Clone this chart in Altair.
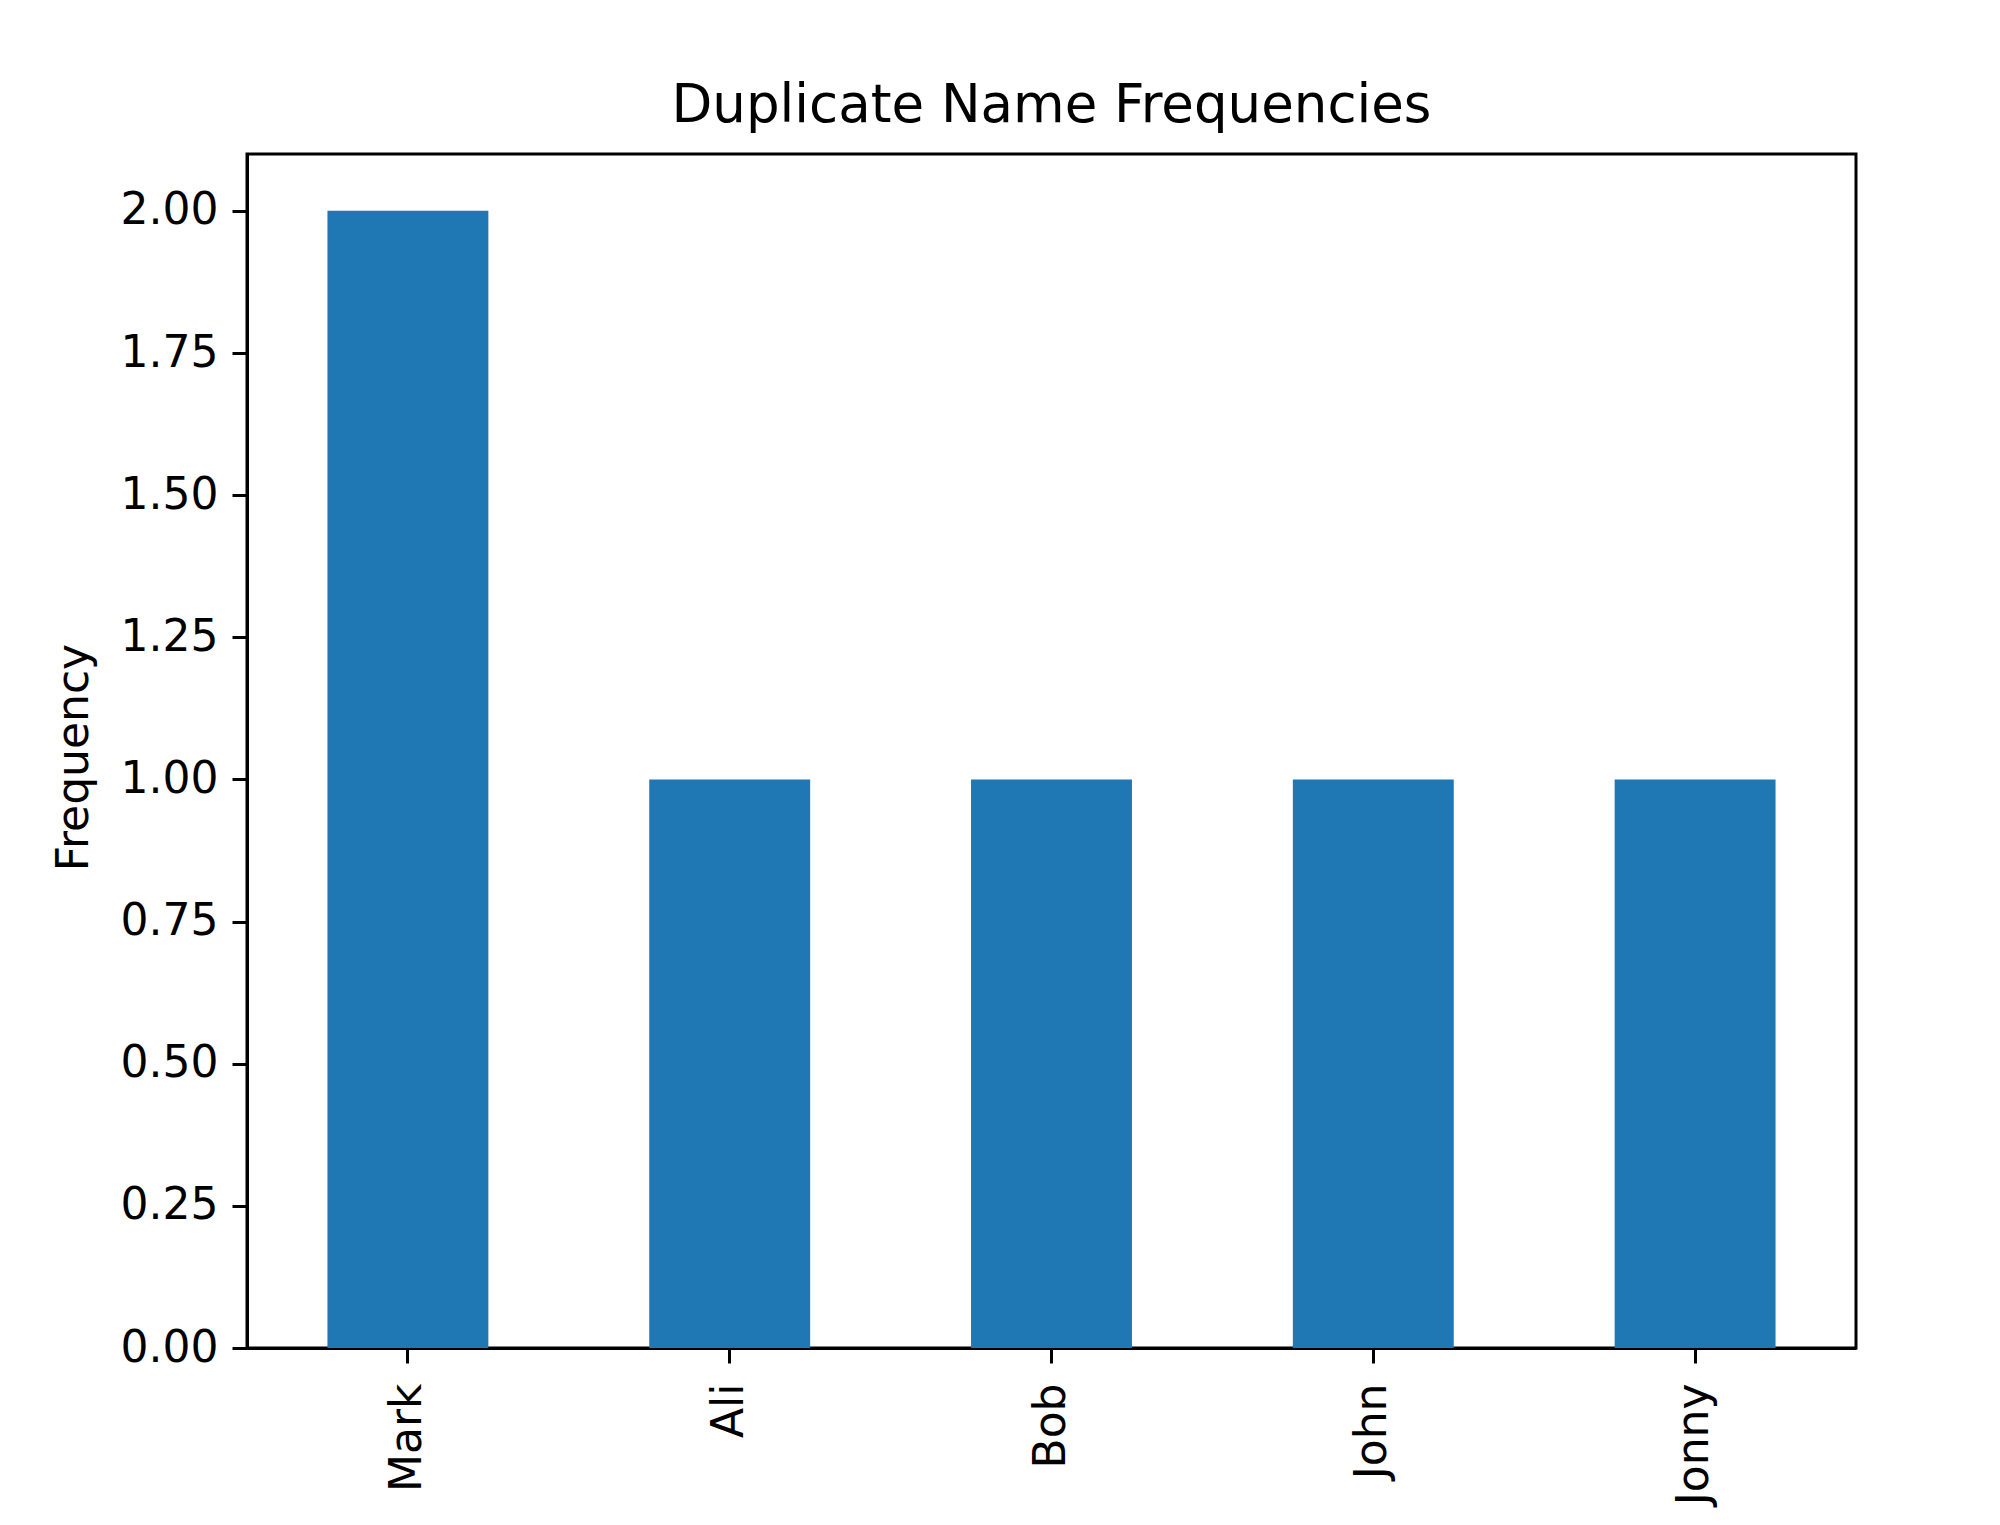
import altair as alt
import pandas as pd

names = ["Mark", "Ali", "Bob", "John", "Jonny"]
freqs = [2, 1, 1, 1, 1]
y_ticks = [0, 0.25, 0.5, 0.75, 1.0, 1.25, 1.5, 1.75, 2.0]

df = pd.DataFrame({"name": names, "freq": freqs})

FONT = "DejaVu Sans"

chart = alt.Chart(df).mark_bar(color="#1f77b4").encode(
    x=alt.X("name:N", sort=names, title=None,
            scale=alt.Scale(paddingInner=0.5, paddingOuter=0.25),
            axis=alt.Axis(labelAngle=270, labelAlign="right", labelBaseline="middle",
                          labelPadding=20, labelFontSize=44, labelFont=FONT,
                          labelColor="black", tickSize=15, tickWidth=3, tickColor="black",
                          domainColor="black", domainWidth=3, grid=False)),
    y=alt.Y("freq:Q", title="Frequency",
            scale=alt.Scale(domain=[0, 2.1], nice=False, zero=True),
            axis=alt.Axis(values=y_ticks, format=".2f", labelFontSize=44, labelFont=FONT,
                          labelColor="black", labelPadding=14, tickSize=15, tickWidth=3,
                          tickColor="black", domainColor="black", domainWidth=3, grid=False,
                          titleFontSize=44, titleFont=FONT, titleFontWeight="normal",
                          titleColor="black", titleAngle=270, titleX=-173, titleY=603,
                          titleAlign="center", titleBaseline="middle")),
).properties(
    width=1609,
    height=1194,
    title=alt.TitleParams("Duplicate Name Frequencies", fontSize=53, font=FONT,
                          fontWeight="normal", color="black", anchor="middle",
                          baseline="alphabetic", offset=-21),
    autosize=alt.AutoSizeParams(type="none"),
    padding={"left": 239, "top": 146, "right": 100, "bottom": 170},
    background="white",
).configure_view(stroke="black", strokeWidth=3)

chart.save("out.html", embed_options={"renderer": "svg", "actions": False})
